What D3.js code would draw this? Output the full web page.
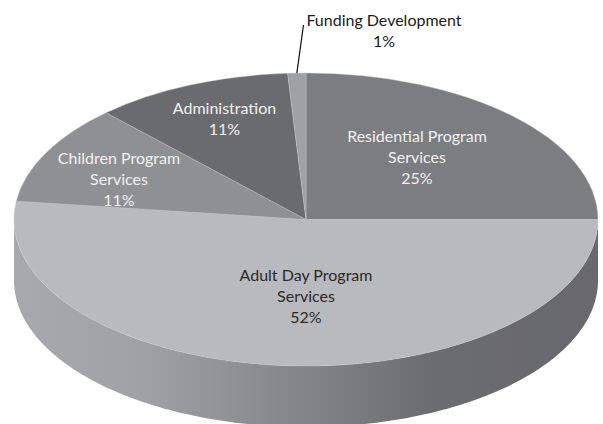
<!DOCTYPE html>
<html><head><meta charset="utf-8">
<script src="https://cdn.jsdelivr.net/npm/d3@7"></script>
<style>html,body{margin:0;background:#fff;overflow:hidden}svg{display:block}text{font-family:Lato,"Open Sans",sans-serif;font-size:16px}</style>
</head><body><div id="c"></div>
<script>
const categories=["Residential Program Services","Adult Day Program Services","Children Program Services","Administration","Funding Development"];
const values=[25,52,11,11,1];
const labelLines=[["Residential Program","Services","25%"],["Adult Day Program","Services","52%"],["Children Program","Services","11%"],["Administration","11%"],["Funding Development","1%"]];
const fills=["#7c7d80","#b9babd","#8f9093","#6a6b6e","#a0a1a4"];
const textFills=["#f0f0f0","#2a2a2a","#f0f0f0","#f0f0f0","#1a1a1a"];
const labelPos=[[417,137],[306,276],[119,159],[224.5,109],[384,21]];
const W=603,H=424,cx=306,cy=219.5,rx=292,ry=146.5,depth=61,lh=21.2;
const svg=d3.select("#c").append("svg").attr("width",W).attr("height",H);
const defs=svg.append("defs");
const grad=defs.append("linearGradient").attr("id","side").attr("gradientUnits","userSpaceOnUse")
 .attr("x1",cx-rx).attr("x2",cx+rx).attr("y1",0).attr("y2",0);
[[0,"#a8a9ac"],[0.22,"#a0a1a4"],[0.5,"#838487"],[0.72,"#6b6c6f"],[1,"#69696d"]].forEach(s=>grad.append("stop").attr("offset",s[0]).attr("stop-color",s[1]));
const sx=d3.scaleLinear().domain([-1,1]).range([cx-rx,cx+rx]);
const sy=d3.scaleLinear().domain([-1,1]).range([cy-ry,cy+ry]);
const thetas=d3.range(0,181).map(d=>d*Math.PI/180);
const side=d3.area().x(t=>sx(Math.cos(t))).y0(t=>sy(Math.sin(t))).y1(t=>sy(Math.sin(t))+depth);
svg.append("path").attr("d",side(thetas)).attr("fill","url(#side)");
const arcs=d3.pie().sort(null).value(d=>d)(values);
const arc=d3.arc().innerRadius(0).outerRadius(rx);
const g=svg.append("g").attr("transform",`translate(${cx},${cy}) scale(1,${ry/rx})`);
g.selectAll("path").data(arcs).join("path").attr("d",arc).attr("fill",(d,i)=>fills[i])
 .attr("stroke","#c4c5c8").attr("stroke-width",0.7).attr("stroke-opacity",0.6).attr("vector-effect","non-scaling-stroke");
const f=arcs[4], mid=(f.startAngle+f.endAngle)/2;
svg.append("line").attr("x1",sx(Math.sin(mid))).attr("y1",sy(-Math.cos(mid))).attr("x2",303.5).attr("y2",25).attr("stroke","#111").attr("stroke-width",1.2);
labelLines.forEach((lines,i)=>{
 const t=svg.append("text").attr("text-anchor","middle").attr("fill",textFills[i]);
 lines.forEach((s,j)=>t.append("tspan").attr("x",labelPos[i][0]).attr("y",labelPos[i][1]+j*lh+5).text(s));
});
</script></body></html>
